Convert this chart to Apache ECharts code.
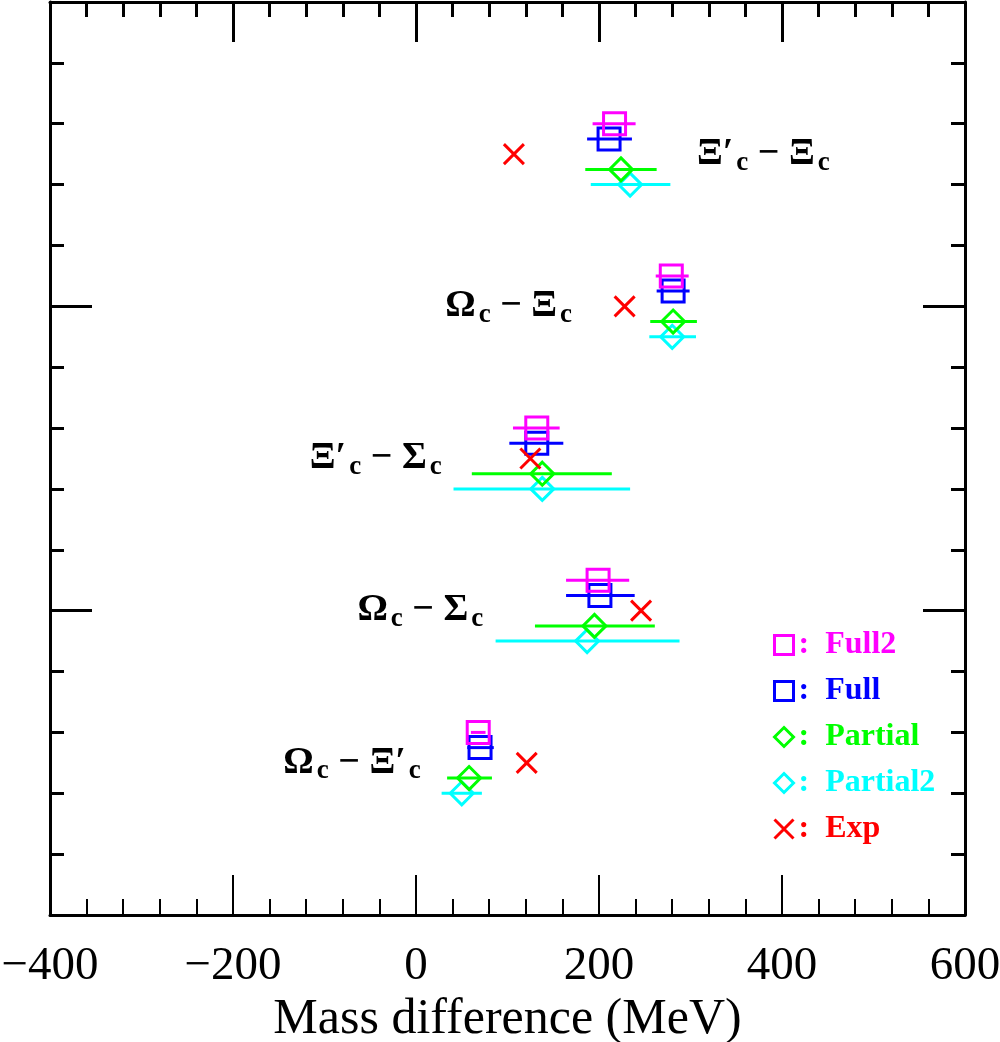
<!DOCTYPE html>
<html>
<head>
<meta charset="utf-8">
<script src="https://cdn.jsdelivr.net/npm/echarts@6/dist/echarts.min.js"></script>
<style>
  html, body { margin: 0; padding: 0; background: #fff; }
  #chart { width: 1000px; height: 1042px; }
</style>
</head>
<body>
<div id="chart"></div>
<script>
// each model: x value, error range, row on the (hidden) y scale
const full2X = [217, 279, 132, 199, 68]
const full2Lo = [193, 262, 106, 164, 60]
const full2Hi = [240, 298, 157, 233, 76]
const full2Y = [13, 10.5, 8, 5.5, 3]

const fullX = [211, 281, 132, 201, 70]
const fullLo = [187, 263, 102, 164, 56]
const fullHi = [236, 299, 161, 239, 85]
const fullY = [12.75, 10.25, 7.75, 5.25, 2.75]

const partialX = [224, 281, 138, 195, 58]
const partialLo = [185, 256, 61, 130, 34]
const partialHi = [263, 307, 214, 261, 83]
const partialY = [12.25, 9.75, 7.25, 4.75, 2.25]

const partial2X = [234, 280, 138, 187, 50]
const partial2Lo = [191, 255, 41, 87, 28]
const partial2Hi = [278, 306, 234, 288, 72]
const partial2Y = [12, 9.5, 7, 4.5, 2]

const expX = [107, 228, 125, 246, 121]
const expY = [12.5, 10, 7.5, 5, 2.5]

// labels of the mass differences
const pairLabels = [
  '{b|Ξ′}{s|c}{b| − Ξ}{s|c}',
  '{b|Ω}{s|c}{b| − Ξ}{s|c}',
  '{b|Ξ′}{s|c}{b| − Σ}{s|c}',
  '{b|Ω}{s|c}{b| − Σ}{s|c}',
  '{b|Ω}{s|c}{b| − Ξ′}{s|c}'
]
const pairLabelX = [307, 32, -116, -64, -145]
const pairLabelY = [12.5, 10, 7.5, 5, 2.5]

const colors = {
  Full2: '#ff00ff',
  Full: '#0000ff',
  Partial: '#00ff00',
  Partial2: '#00ffff',
  Exp: '#ff0000'
}

const myChart = echarts.init(document.querySelector('#chart'))

function errBars(lo, hi, y, color) {
  return {
    type: 'custom',
    name: 'err',
    data: y.map((v, i) => [lo[i], hi[i], v]),
    encode: { x: [0, 1], y: 2 },
    z: 2,
    silent: true,
    renderItem(params, api) {
      const a = api.coord([api.value(0), api.value(2)])
      const b = api.coord([api.value(1), api.value(2)])
      return {
        type: 'line',
        shape: { x1: a[0], y1: a[1], x2: b[0], y2: b[1] },
        style: { stroke: color, lineWidth: 3 }
      }
    }
  }
}

function markers(name, xs, ys, symbol, size) {
  return {
    type: 'scatter',
    name: name,
    data: xs.map((v, i) => [v, ys[i]]),
    symbol: symbol,
    symbolSize: size,
    z: 3,
    itemStyle: {
      color: 'rgba(0,0,0,0)',
      borderColor: colors[name],
      borderWidth: 3,
      opacity: 1
    }
  }
}

const xAxisBase = {
  type: 'value',
  min: -400,
  max: 600,
  interval: 200,
  splitLine: { show: false },
  axisLine: { onZero: false, lineStyle: { color: '#000', width: 3 } },
  axisTick: { inside: true, length: 40, lineStyle: { color: '#000', width: 2 } },
  minorTick: { show: true, splitNumber: 5, length: 16, lineStyle: { color: '#000', width: 2 } }
}

const yAxisBase = {
  type: 'value',
  min: 0,
  max: 15,
  interval: 5,
  splitLine: { show: false },
  axisLabel: { show: false },
  axisLine: { onZero: false, lineStyle: { color: '#000', width: 3 } },
  axisTick: { inside: true, length: 42, lineStyle: { color: '#000', width: 3 } },
  minorTick: { show: true, splitNumber: 5, length: 14, lineStyle: { color: '#000', width: 3 } }
}

const legendNames = ['Full2', 'Full', 'Partial', 'Partial2', 'Exp']

const option = {
  animation: false,
  backgroundColor: '#fff',
  grid: { left: 50, right: 35, top: 2, bottom: 127, containLabel: false, outerBoundsMode: 'none' },
  xAxis: [
    Object.assign({}, xAxisBase, {
      position: 'bottom',
      name: 'Mass difference (MeV)',
      nameLocation: 'middle',
      nameGap: 70,
      nameTextStyle: { fontFamily: 'Liberation Serif', fontSize: 50, color: '#000' },
      axisLabel: {
        margin: 28,
        fontFamily: 'Liberation Serif',
        fontSize: 47,
        color: '#000',
        formatter: v => (v < 0 ? '−' + Math.abs(v) : String(v))
      }
    }),
    Object.assign({}, xAxisBase, {
      position: 'top',
      axisLabel: { show: false },
      axisTick: { inside: true, length: 40, lineStyle: { color: '#000', width: 3 } },
      minorTick: { show: true, splitNumber: 5, length: 15, lineStyle: { color: '#000', width: 3 } }
    })
  ],
  yAxis: [
    Object.assign({}, yAxisBase, { position: 'left' }),
    Object.assign({}, yAxisBase, { position: 'right' })
  ],
  legend: {
    orient: 'vertical',
    left: 768,
    top: 624,
    itemWidth: 19,
    itemHeight: 19,
    itemGap: 14,
    selectedMode: false,
    formatter: name => ':  ' + name,
    data: legendNames.map(n => ({
      name: n,
      textStyle: {
        color: colors[n],
        fontFamily: 'Liberation Serif',
        fontWeight: 'bold',
        fontSize: 32,
        lineHeight: 32
      },
      itemStyle: { color: 'rgba(0,0,0,0)', borderColor: colors[n], borderWidth: 3 }
    }))
  },
  series: [
    errBars(partial2Lo, partial2Hi, partial2Y, colors.Partial2),
    errBars(partialLo, partialHi, partialY, colors.Partial),
    errBars(fullLo, fullHi, fullY, colors.Full),
    errBars(full2Lo, full2Hi, full2Y, colors.Full2),
    markers('Partial2', partial2X, partial2Y, 'diamond', 23),
    markers('Partial', partialX, partialY, 'diamond', 23),
    markers('Full', fullX, fullY, 'rect', 22),
    markers('Full2', full2X, full2Y, 'rect', 22),
    markers('Exp', expX, expY, 'path://M0 0L10 10M10 0L0 10', 20),
    {
      type: 'scatter',
      name: 'labels',
      symbolSize: 0,
      silent: true,
      data: pairLabelX.map((v, i) => ({ value: [v, pairLabelY[i]], text: pairLabels[i] })),
      label: {
        show: true,
        position: 'right',
        distance: 0,
        color: '#000',
        opacity: 1,
        textBorderWidth: 0,
        formatter: p => p.data.text,
        rich: {
          b: { fontFamily: 'Liberation Serif', fontWeight: 'bold', fontSize: 38, color: '#000', lineHeight: 44 },
          s: { fontFamily: 'Liberation Serif', fontWeight: 'bold', fontSize: 27, color: '#000', lineHeight: 44, verticalAlign: 'bottom', padding: [20, 0, 0, 3] }
        }
      }
    }
  ]
}

myChart.setOption(option)
</script>
</body>
</html>
